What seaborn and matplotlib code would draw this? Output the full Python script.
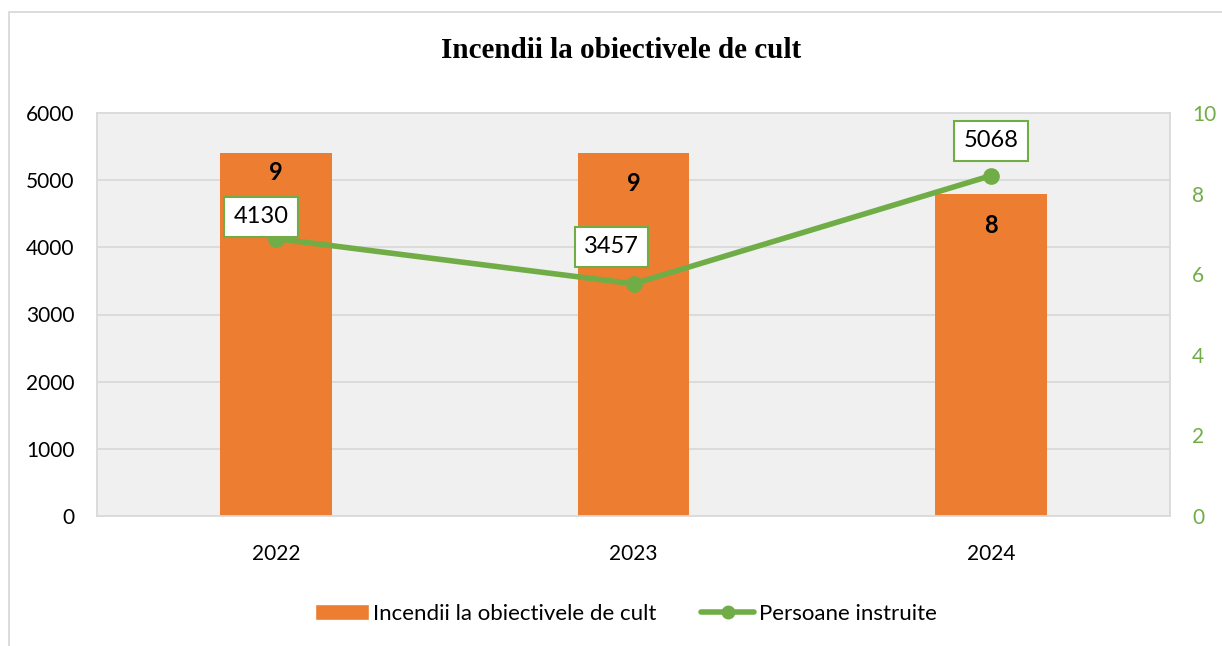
import numpy as np
import matplotlib
matplotlib.use("Agg")
import matplotlib.pyplot as plt
import seaborn as sns
from matplotlib.patches import Rectangle
from matplotlib.lines import Line2D
from matplotlib.patches import Patch

# data
years = ["2022", "2023", "2024"]
fires = [9, 9, 8]                   # Incendii la obiectivele de cult (right axis)
trained = [4130, 3457, 5068]        # Persoane instruite (left axis)

title = "Incendii la obiectivele de cult"
fires_label = "Incendii la obiectivele de cult"
trained_label = "Persoane instruite"

orange = "#ed7d31"
green = "#70ad47"
grid_col = "#d9d9d9"

sns.set_style("white")
plt.rcParams["font.family"] = ["Lato", "DejaVu Sans"]
plt.rcParams["text.color"] = "black"
plt.rcParams["xtick.color"] = "black"
plt.rcParams["ytick.color"] = "black"

fig = plt.figure(figsize=(12.22, 6.46), dpi=100)
ax = fig.add_axes([97 / 1222, 1 - 516 / 646, (1170 - 97) / 1222, (516 - 113) / 646])
ax2 = ax.twinx()

# bars live on the twin (0-10) axis, drawn underneath the line axis
sns.barplot(x=years, y=fires, ax=ax2, color=orange, width=0.313, saturation=1,
            linewidth=0, zorder=2)
ax2.set_ylim(0, 10)
ax2.set_yticks(np.arange(0, 11, 2))
ax2.set_facecolor("#f0f0f0")
ax2.patch.set_visible(True)
# horizontal grid following the left-hand 1000 steps
ax2.set_yticks(np.linspace(0, 10, 7), minor=True)
ax2.set_xticks([-0.5, 0.5, 1.5, 2.5], minor=True)
ax2.grid(which="minor", color=grid_col, lw=1.3, zorder=0)
ax2.grid(which="major", visible=False)
ax2.tick_params(axis="y", which="minor", length=0)
ax2.tick_params(axis="x", which="minor", length=0)
ax2.set_axisbelow(True)
ax2.yaxis.tick_right()
ax2.tick_params(axis="y", which="major", colors=green, labelsize=15, length=0, pad=16)
for s in ax2.spines.values():
    s.set_color(grid_col)
    s.set_linewidth(1.3)

ax.set_zorder(ax2.get_zorder() + 1)
ax.patch.set_visible(False)
sns.pointplot(x=years, y=trained, ax=ax, color=green, markers="o",
              linewidth=4, markersize=9, errorbar=None)
ax.set_ylim(0, 6000)
ax.set_xlim(-0.5, 2.5)
ax.set_yticks(np.arange(0, 6001, 1000))
ax.yaxis.tick_left()
ax.tick_params(axis="y", labelsize=15, length=0, pad=16)
ax.tick_params(axis="x", labelsize=15, length=0, pad=20)
ax.set_xlabel("")
ax.set_ylabel("")
ax2.set_ylabel("")
for s in ax.spines.values():
    s.set_visible(False)

# bar value labels (bold, inside the bar top)
bar_offsets = [-19, -30, -32]
for i, (v, off) in enumerate(zip(fires, bar_offsets)):
    ax2.annotate(str(v), (i, v), xytext=(0, off), textcoords="offset pixels",
                 ha="center", va="center", fontsize=17, fontweight="bold")

# line value labels in green-edged boxes
line_offsets = [(-15, 22), (-22, 37), (0, 35)]
for i, (v, (dx, dy)) in enumerate(zip(trained, line_offsets)):
    ax.annotate(str(v), (i, v), xytext=(dx, dy), textcoords="offset pixels",
                ha="center", va="center", fontsize=17,
                bbox=dict(boxstyle="square,pad=0.4", fc="white", ec=green, lw=1.5))

fig.text(621 / 1222, 1 - 50 / 646, title, ha="center", va="center",
         fontsize=21, fontweight="bold", family=["Liberation Serif", "DejaVu Serif"])

handles = [Patch(facecolor=orange, label=fires_label),
           Line2D([0], [0], color=green, lw=4, marker="o", markersize=9, label=trained_label)]
fig.legend(handles=handles, loc="center", bbox_to_anchor=(626 / 1222, 1 - 614 / 646),
           ncol=2, frameon=False, fontsize=16, handlelength=2.4, columnspacing=2.0,
           handletextpad=0.2)

# outer chart border
fig.patches.append(Rectangle((9 / 1222, -0.1), 1.2, 1 - 12 / 646 + 0.1,
                             transform=fig.transFigure, fill=False,
                             ec=grid_col, lw=1.3))

fig.savefig("out.png", dpi=100)
